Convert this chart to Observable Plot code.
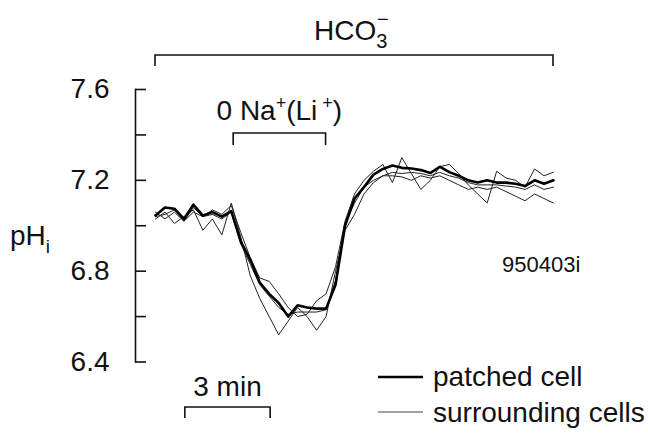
<!DOCTYPE html>
<html><head><meta charset="utf-8">
<script src="https://cdn.jsdelivr.net/npm/d3@7"></script>
<script src="https://cdn.jsdelivr.net/npm/@observablehq/plot@0.6"></script>
<style>
body{margin:0;background:#fff;}
svg{font-family:"Liberation Sans",Arial,Helvetica,sans-serif;}
</style></head><body><div id="chart"></div>
<script>
// sampling interval (minutes) – one point every 20 s
const sampleMinutes = 1/3;
const patchedCell = [7.045, 7.08, 7.075, 7.03, 7.093, 7.045, 7.06, 7.04, 7.064, 6.93, 6.85, 6.75, 6.70, 6.66, 6.60, 6.65, 6.64, 6.635, 6.635, 6.74, 7.00, 7.12, 7.17, 7.225, 7.25, 7.265, 7.255, 7.252, 7.245, 7.232, 7.26, 7.236, 7.22, 7.20, 7.19, 7.20, 7.19, 7.19, 7.185, 7.175, 7.20, 7.185, 7.20];
const surroundingA = [7.03, 7.06, 7.01, 7.04, 7.07, 6.98, 7.03, 6.96, 7.10, 6.95, 6.78, 6.68, 6.60, 6.52, 6.58, 6.64, 6.60, 6.54, 6.60, 6.80, 6.98, 7.05, 7.14, 7.19, 7.22, 7.22, 7.215, 7.20, 7.22, 7.21, 7.22, 7.20, 7.18, 7.16, 7.17, 7.16, 7.17, 7.15, 7.13, 7.11, 7.14, 7.12, 7.10];
const surroundingB = [7.06, 7.03, 7.06, 7.02, 7.08, 7.04, 7.07, 7.05, 7.09, 6.97, 6.86, 6.77, 6.755, 6.70, 6.64, 6.60, 6.61, 6.67, 6.70, 6.82, 7.02, 7.14, 7.20, 7.24, 7.27, 7.19, 7.30, 7.23, 7.16, 7.20, 7.26, 7.27, 7.23, 7.18, 7.14, 7.10, 7.24, 7.21, 7.20, 7.17, 7.25, 7.22, 7.236];
const surroundingC = [7.04, 7.05, 7.07, 7.02, 7.06, 7.04, 7.05, 7.03, 7.06, 6.92, 6.83, 6.74, 6.69, 6.64, 6.61, 6.62, 6.62, 6.62, 6.63, 6.76, 7.01, 7.10, 7.17, 7.20, 7.22, 7.235, 7.23, 7.235, 7.23, 7.22, 7.235, 7.22, 7.21, 7.19, 7.18, 7.18, 7.18, 7.175, 7.17, 7.16, 7.18, 7.16, 7.17];
const yTickLabels = [6.4, 6.8, 7.2, 7.6];
const yTickMarks = [6.4, 6.6, 6.8, 7.0, 7.2, 7.4, 7.6];
const hco3Period = [0, 14];      // minutes
const zeroNaPeriod = [2.75, 6.0]; // minutes
const scaleBarMinutes = [1.05, 4.05];
const recordId = "950403i";
const legendLabels = ["patched cell", "surrounding cells"];

const rows = [];
patchedCell.forEach((v, i) => rows.push({t: i * sampleMinutes, pH: v, series: "patched"}));
[["A", surroundingA], ["B", surroundingB], ["C", surroundingC]].forEach(([k, arr]) =>
  arr.forEach((v, i) => rows.push({t: i * sampleMinutes, pH: v, series: "s" + k})));

const plot = Plot.plot({
  width: 648, height: 433,
  marginLeft: 135, marginRight: 95, marginTop: 89, marginBottom: 71.5,
  style: {fontFamily: '"Liberation Sans", Arial, sans-serif', background: "#fff"},
  x: {domain: [0, 14], range: [155, 553], axis: null},
  y: {domain: [6.4, 7.6], axis: null},
  marks: [
    Plot.frame({anchor: "left", strokeWidth: 1.6, stroke: "#111"}),
    Plot.tickY(yTickMarks, {insetRight: 407, strokeWidth: 1.6, stroke: "#111"}),
    Plot.axisY(yTickLabels, {tickSize: 0, tickPadding: 26, fontSize: 28, label: null, tickFormat: d3.format(".1f"), fill: "#111"}),
    Plot.line(rows.filter(d => d.series !== "patched"), {x: "t", y: "pH", z: "series", stroke: "#222", strokeWidth: 1}),
    Plot.line(rows.filter(d => d.series === "patched"), {x: "t", y: "pH", stroke: "#000", strokeWidth: 2.6})
  ]
});
document.getElementById("chart").appendChild(plot);

const xs = plot.scale("x");
const X = d3.scaleLinear(xs.domain, xs.range);
const svg = d3.select(plot);
const g = svg.append("g").attr("fill", "none").attr("stroke", "#111").attr("stroke-width", 1.6);
function bracket(x1, x2, y, drop) {
  g.append("path").attr("d", `M${x1},${y + drop}V${y}H${x2}V${y + drop}`);
}
bracket(X(hco3Period[0]), X(hco3Period[1]), 55, 11);
bracket(X(zeroNaPeriod[0]), X(zeroNaPeriod[1]), 133, 12);
bracket(X(scaleBarMinutes[0]), X(scaleBarMinutes[1]), 407, 11);

const tg = svg.append("g").attr("fill", "#111").attr("font-size", 28).attr("text-anchor", "start");
// HCO3-
const hcx = (X(hco3Period[0]) + X(hco3Period[1])) / 2 - 40;
const hco = tg.append("text").attr("x", hcx).attr("y", 40);
hco.append("tspan").text("HCO");
hco.append("tspan").attr("font-size", 20).attr("dy", 8).text("3");
tg.append("text").attr("x", hcx + 63).attr("y", 26).attr("font-size", 20).text("\u2212");
// 0 Na+(Li+)
const na = tg.append("text").attr("x", (X(zeroNaPeriod[0]) + X(zeroNaPeriod[1])) / 2).attr("y", 120).attr("text-anchor", "middle");
na.append("tspan").text("0 Na");
na.append("tspan").attr("font-size", 18).attr("dy", -11).text("+");
na.append("tspan").attr("dy", 11).text("(Li");
na.append("tspan").attr("font-size", 18).attr("dy", -11).text(" +");
na.append("tspan").attr("dy", 11).text(")");
// pHi
const ph = tg.append("text").attr("x", 10).attr("y", 245);
ph.append("tspan").text("pH");
ph.append("tspan").attr("font-size", 19).attr("dy", 8).text("i");
// record id
tg.append("text").attr("x", 502).attr("y", 272).attr("font-size", 22).text(recordId);
// scale bar label
tg.append("text").attr("x", (X(scaleBarMinutes[0]) + X(scaleBarMinutes[1])) / 2).attr("y", 396).attr("text-anchor", "middle").text("3 min");
// legend
svg.append("line").attr("x1", 378).attr("x2", 423).attr("y1", 377).attr("y2", 377).attr("stroke", "#000").attr("stroke-width", 2.6);
svg.append("line").attr("x1", 378).attr("x2", 423).attr("y1", 412).attr("y2", 412).attr("stroke", "#444").attr("stroke-width", 1);
tg.append("text").attr("x", 433).attr("y", 386).text(legendLabels[0]);
tg.append("text").attr("x", 433).attr("y", 422).text(legendLabels[1]);
</script></body></html>
